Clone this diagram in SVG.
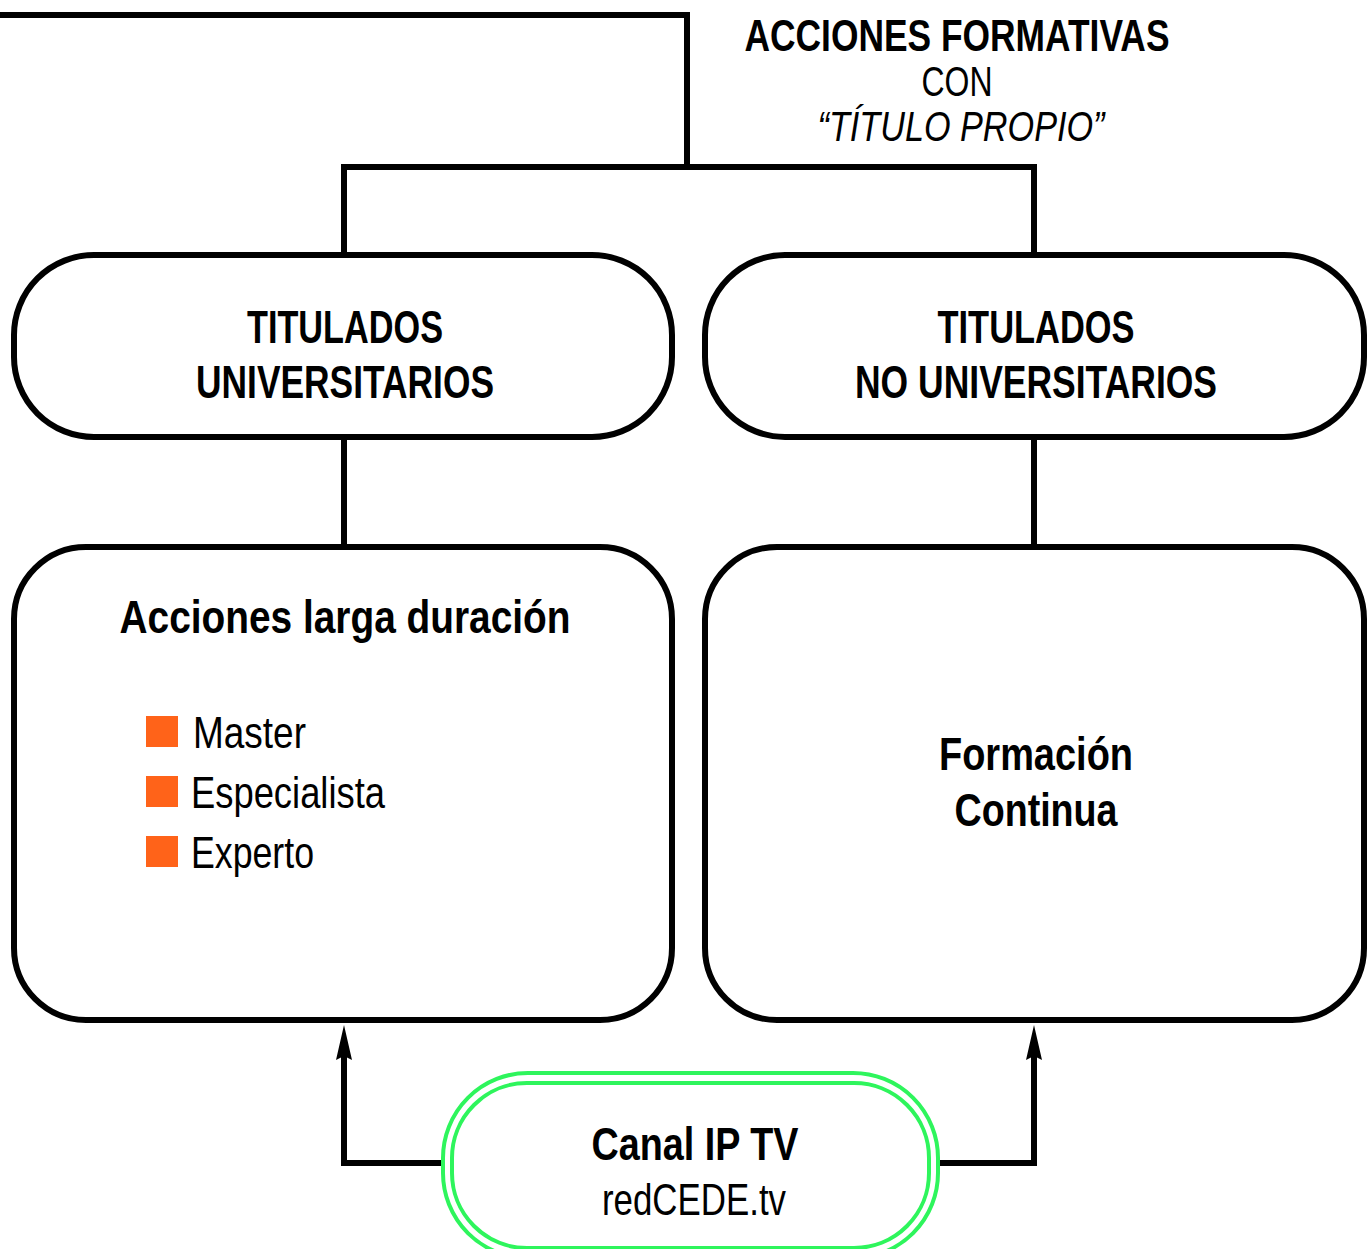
<svg xmlns="http://www.w3.org/2000/svg" width="1370" height="1249" viewBox="0 0 1370 1249">
<style>
.box{fill:#fff;stroke:#000;stroke-width:6}
.ln{fill:none;stroke:#000;stroke-width:6}
.g{fill:none;stroke:#2ef55c;stroke-width:4}
.ah{fill:#000}
text{font-family:"Liberation Sans",Arial,sans-serif;fill:#000;text-anchor:middle}
.b{font-weight:bold;font-size:47px}
.r{font-size:44px}
.bl{font-size:44px;text-anchor:start}
.sq{fill:#ff6319}
</style>
<rect width="1370" height="1249" fill="#fff"/>
<g id="connectors">
<path class="ln" d="M0 15 H687 V167"/>
<path class="ln" d="M344 253 V167 H1034 V253"/>
<path class="ln" d="M344 437 V547"/>
<path class="ln" d="M1034 437 V547"/>
<path class="ln" d="M446 1163 H344 V1050"/>
<path class="ah" d="M336 1060 L344 1025 L352 1060 L344 1056 Z"/>
<path class="ln" d="M935 1163 H1034 V1050"/>
<path class="ah" d="M1026 1060 L1034 1025 L1042 1060 L1034 1056 Z"/>
</g>
<g id="title">
<text x="957" y="51" font-weight="bold" font-size="44" textLength="425" lengthAdjust="spacingAndGlyphs">ACCIONES FORMATIVAS</text>
<text x="957" y="96" font-size="42" textLength="71" lengthAdjust="spacingAndGlyphs">CON</text>
<text x="961" y="141" font-size="42" font-style="italic" textLength="287" lengthAdjust="spacingAndGlyphs">“TÍTULO PROPIO”</text>
</g>
<g id="n1">
<rect class="box" x="14" y="255" width="658" height="182" rx="80"/>
<text class="b" x="345" y="343" textLength="196" lengthAdjust="spacingAndGlyphs">TITULADOS</text>
<text class="b" x="345" y="398" textLength="298" lengthAdjust="spacingAndGlyphs">UNIVERSITARIOS</text>
</g>
<g id="n2">
<rect class="box" x="705" y="255" width="659" height="182" rx="80"/>
<text class="b" x="1036" y="343" textLength="197" lengthAdjust="spacingAndGlyphs">TITULADOS</text>
<text class="b" x="1036" y="398" textLength="362" lengthAdjust="spacingAndGlyphs">NO UNIVERSITARIOS</text>
</g>
<g id="n3">
<rect class="box" x="14" y="547" width="658" height="473" rx="72"/>
<text class="b" x="345" y="633" textLength="451" lengthAdjust="spacingAndGlyphs">Acciones larga duración</text>
<rect class="sq" x="146" y="716" width="32" height="31"/>
<rect class="sq" x="146" y="776" width="32" height="31"/>
<rect class="sq" x="146" y="836" width="32" height="31"/>
<text class="bl" x="193" y="748" textLength="113" lengthAdjust="spacingAndGlyphs">Master</text>
<text class="bl" x="191" y="808" textLength="194" lengthAdjust="spacingAndGlyphs">Especialista</text>
<text class="bl" x="191" y="868" textLength="123" lengthAdjust="spacingAndGlyphs">Experto</text>
</g>
<g id="n4">
<rect class="box" x="705" y="547" width="659" height="473" rx="72"/>
<text class="b" x="1036" y="770" textLength="194" lengthAdjust="spacingAndGlyphs">Formación</text>
<text class="b" x="1036" y="826" textLength="163" lengthAdjust="spacingAndGlyphs">Continua</text>
</g>
<g id="n5">
<rect x="443" y="1073" width="495" height="185" rx="85" fill="#fff" stroke="#2ef55c" stroke-width="4"/>
<rect class="g" x="452" y="1083" width="477" height="165" rx="75"/>
<text class="b" x="695" y="1160" textLength="207" lengthAdjust="spacingAndGlyphs">Canal IP TV</text>
<text class="r" x="694" y="1215" textLength="184" lengthAdjust="spacingAndGlyphs">redCEDE.tv</text>
</g>
</svg>
